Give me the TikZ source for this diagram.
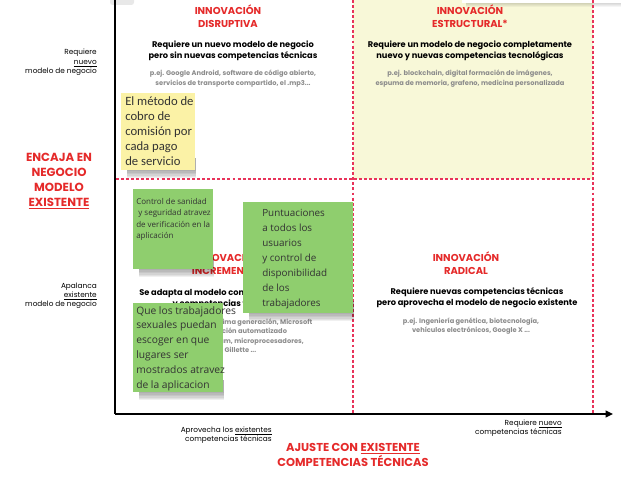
\documentclass[tikz,border=0pt]{standalone}
\usepackage{fontspec}
\setmainfont{Poppins}
\newfontfamily\notefont{Open Sans}
\newfontfamily\ynotefont{Carlito}
\usetikzlibrary{arrows.meta}
\definecolor{titred}{HTML}{E52A2A}
\definecolor{dashred}{HTML}{E8335A}
\definecolor{txtgray}{HTML}{8C8C8C}
\definecolor{quadyel}{HTML}{F8F8D8}
\definecolor{noteyel}{HTML}{FBF2A6}
\definecolor{notegrn}{HTML}{8FCE6E}
\newcommand\stickyshadow[4]{%
  \foreach \k in {1,...,6}{\fill[black,opacity=0.06] (#1+6,#4-12) rectangle (#3+1,#4+\k*1.4);}}
\begin{document}
\begin{tikzpicture}[x=0.75pt,y=-0.75pt,
 title/.style={font=\fontsize{7.5}{9.75}\selectfont\bfseries, text=titred, align=center, anchor=base, inner sep=0},
 lead/.style={font=\fontsize{6.2}{8.25}\selectfont\bfseries, text=black, align=center, anchor=base, inner sep=0},
 example/.style={font=\fontsize{5}{7.2}\selectfont\bfseries, text=txtgray, align=center, anchor=base, inner sep=0},
 sidelabel/.style={font=\fontsize{5.5}{6.9}\selectfont, align=right, anchor=base east, inner sep=0},
 axistitle/.style={font=\fontsize{8.8}{11.25}\selectfont\bfseries, text=titred, align=center, anchor=base, inner sep=0},
 qline/.style={dashred, line width=1.5pt, dash pattern=on 2.2pt off 1.6pt},
 axisline/.style={black, line width=1.2pt},
 notebox/.style={draw=none, anchor=north west, inner sep=0},
 notetext/.style={anchor=base west, inner sep=0, align=left, text=black!80}
]
\useasboundingbox (0,0) rectangle (640,478);
\fill[white] (0,0) rectangle (640,478);
% yellow quadrant
\fill[quadyel] (353,0) rectangle (593,179);
% bits of cut-off notes at the top
\fill[gray!18, rounded corners=2] (110,-5) rectangle (134,5);
\foreach \k in {1,...,4}{\fill[black,opacity=0.04] (466,0) rectangle (621,3+\k);}
\fill[white] (462,-5) rectangle (623,3);

% ---- quadrant texts (anchor = baseline of last line) ----
\node[title]   (tlT) at (228,27.5) {INNOVACIÓN\\DISRUPTIVA};
\node[lead]    (tlL) at (233,58.5) {Requiere un nuevo modelo de negocio\\pero sin nuevas competencias técnicas};
\node[example] (tlE) at (233,85.6) {p.ej. Google Android, software de código abierto,\\servicios de transporte compartido, el .mp3...};

\node[title]   (trT) at (470,27.5) {INNOVACIÓN\\ESTRUCTURAL*};
\node[lead]    (trL) at (470,58.5) {Requiere un modelo de negocio completamente\\nuevo y nuevas competencias tecnológicas};
\node[example] (trE) at (470,85.6) {p.ej. blockchain, digital formación de imágenes,\\espuma de memoria, grafeno, medicina personalizada};

\node[title]   (blT) at (227,274.5) {INNOVACIÓN\\INCREMENTAL};
\node[lead]    (blL) at (226,306) {Se adapta al modelo comercial existente\\y competencias técnicas};
\node[example] (blE) at (230,352.8) {p.ej. Windows de próxima generación, Microsoft\\Office, facturación automatizado\\sistema Intel Pentium, microprocesadores,\\Xbox, Gillette ...};

\node[title]   (brT) at (466,274.5) {INNOVACIÓN\\RADICAL};
\node[lead]    (brL) at (477,305) {Requiere nuevas competencias técnicas\\pero aprovecha el modelo de negocio existente};
\node[example] (brE) at (471,332.6) {p.ej. Ingeniería genética, biotecnología,\\vehículos electrónicos, Google X ...};

% ---- side labels ----
\node[sidelabel] (ynew) at (97,73.4) {Requiere\\\underline{nuevo}\\modelo de negocio};
\node[sidelabel] (yold) at (97,306.4) {Apalanca\\\underline{existente}\\modelo de negocio};
\node[axistitle] (yax) at (59,206) {ENCAJA EN\\NEGOCIO\\MODELO\\\underline{EXISTENTE}};

\node[sidelabel] (xold) at (272,441.2) {Aprovecha los \underline{existentes}\\competencias técnicas};
\node[sidelabel] (xnew) at (562,434.2) {Requiere \underline{nuevo}\\competencias técnicas};
\node[axistitle, font=\fontsize{8.6}{11.25}\selectfont\bfseries] (xax) at (353,466.5) {AJUSTE CON \underline{EXISTENTE}\\COMPETENCIAS TÉCNICAS};

% ---- axes and quadrant lines ----
\coordinate (o) at (115,414);
\coordinate (ytop) at (115,0);
\coordinate (xend) at (613,414);
\coordinate (m1) at (353,0);   \coordinate (m1b) at (353,414);
\coordinate (m2) at (593,0);   \coordinate (m2b) at (593,414);
\coordinate (h1) at (116,179); \coordinate (h2) at (593,179);
\draw[qline] (m1) -- (m1b);
\draw[qline] (m2) -- (m2b);
\draw[qline] (h1) -- (h2);
\draw[axisline] (ytop) -- (o);
\draw[axisline, -{Triangle[length=5.5pt,width=5pt]}] (o) -- (xend);

% ---- sticky notes ----
\stickyshadow{121}{93}{195}{170}
\node[notebox, fill=noteyel, minimum width=55.5pt, minimum height=57.75pt] (n1) at (121,93) {};
\node[notetext, font=\ynotefont\fontsize{9.5}{11.25}\selectfont] (n1t) at (125,166) {El método de\\cobro de\\comisión por\\cada pago\\de servicio};

\stickyshadow{133}{189}{213}{269}
\node[notebox, fill=notegrn, minimum width=60pt, minimum height=60pt] (n2) at (133,189) {};
\node[notetext, font=\notefont\fontsize{6}{8.5}\selectfont] (n2t) at (136,238.5) {Control de sanidad\\\ y seguridad atravez\\de verificación en la\\aplicación};

\stickyshadow{243}{202}{353}{313}
\node[notebox, fill=notegrn, minimum width=82.5pt, minimum height=83.25pt] (n3) at (243,202) {};
\node[notetext, font=\notefont\fontsize{7.4}{11.25}\selectfont] (n3t) at (262,306) {Puntuaciones\\a todos los\\usuarios\\y control de\\disponibilidad\\de los\\trabajadores};

\stickyshadow{133}{303}{223}{392}
\node[notebox, fill=notegrn, minimum width=67.5pt, minimum height=66.75pt] (n4) at (133,303) {};
\node[notetext, font=\notefont\fontsize{7.7}{11.1}\selectfont] (n4t) at (136,388) {Que los trabajadores\\sexuales puedan\\escoger en que\\lugares ser\\mostrados atravez\\de la aplicacion};
\end{tikzpicture}
\end{document}
